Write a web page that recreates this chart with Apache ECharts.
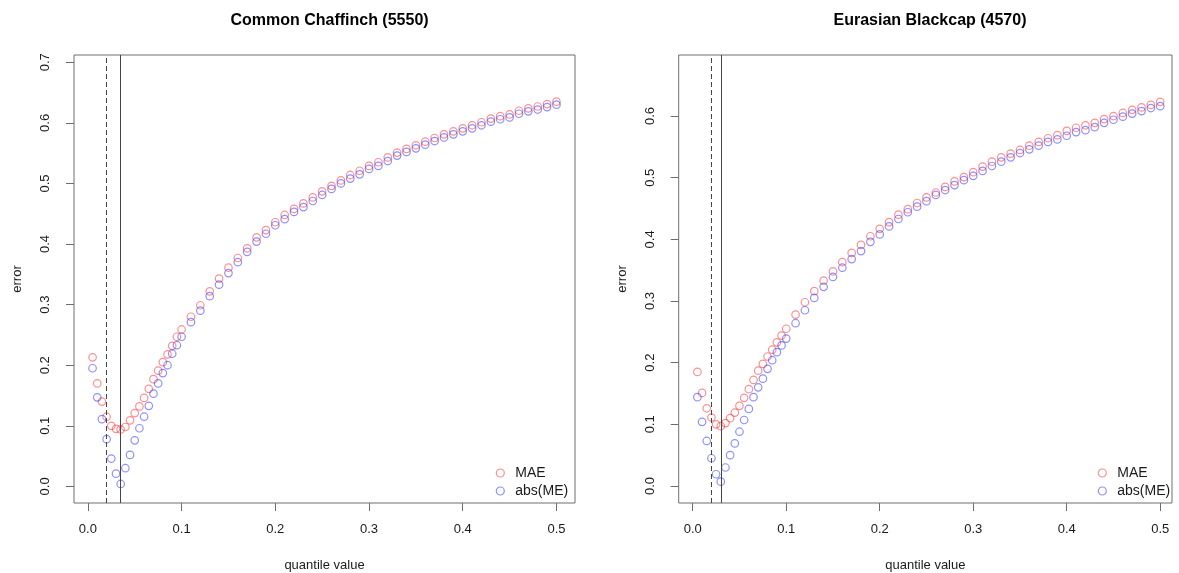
<!DOCTYPE html>
<html>
<head>
<meta charset="utf-8">
<title>Quantile error curves</title>
<script src="https://cdn.jsdelivr.net/npm/echarts@6/dist/echarts.min.js"></script>
<style>
  html, body { margin: 0; padding: 0; background: #fff; }
  #chart { width: 1179px; height: 573px; }
</style>
</head>
<body>
<div id="chart"></div>
<script>
// Quantile values evaluated for both species
const quantiles = [
  0.005, 0.01, 0.015, 0.02, 0.025, 0.03, 0.035, 0.04, 0.045, 0.05,
  0.055, 0.06, 0.065, 0.07, 0.075, 0.08, 0.085, 0.09, 0.095, 0.10,
  0.11, 0.12, 0.13, 0.14, 0.15, 0.16, 0.17, 0.18, 0.19, 0.20,
  0.21, 0.22, 0.23, 0.24, 0.25, 0.26, 0.27, 0.28, 0.29, 0.30,
  0.31, 0.32, 0.33, 0.34, 0.35, 0.36, 0.37, 0.38, 0.39, 0.40,
  0.41, 0.42, 0.43, 0.44, 0.45, 0.46, 0.47, 0.48, 0.49, 0.50
];

// Common Chaffinch (5550)
const chaffinchMAE = [
  0.213, 0.170, 0.140, 0.115, 0.100, 0.095, 0.094, 0.098, 0.109, 0.121,
  0.132, 0.146, 0.161, 0.177, 0.191, 0.205, 0.218, 0.232, 0.247, 0.259,
  0.280, 0.299, 0.322, 0.343, 0.361, 0.377, 0.393, 0.411, 0.423, 0.436,
  0.448, 0.458, 0.467, 0.477, 0.487, 0.496, 0.505, 0.514, 0.521, 0.529,
  0.535, 0.543, 0.551, 0.557, 0.563, 0.569, 0.575, 0.581, 0.586, 0.591,
  0.596, 0.601, 0.607, 0.611, 0.614, 0.620, 0.624, 0.627, 0.631, 0.635
];
const chaffinchAbsME = [
  0.195, 0.147, 0.111, 0.078, 0.046, 0.021, 0.004, 0.030, 0.052, 0.076,
  0.096, 0.115, 0.133, 0.153, 0.170, 0.187, 0.200, 0.219, 0.233, 0.247,
  0.271, 0.290, 0.314, 0.333, 0.352, 0.370, 0.387, 0.404, 0.417, 0.431,
  0.441, 0.453, 0.461, 0.471, 0.481, 0.491, 0.500, 0.508, 0.515, 0.524,
  0.529, 0.537, 0.546, 0.552, 0.558, 0.564, 0.570, 0.576, 0.581, 0.586,
  0.591, 0.596, 0.602, 0.606, 0.609, 0.615, 0.619, 0.622, 0.626, 0.630
];

// Eurasian Blackcap (4570)
const blackcapMAE = [
  0.185, 0.151, 0.126, 0.111, 0.100, 0.097, 0.102, 0.110, 0.119, 0.130,
  0.143, 0.157, 0.172, 0.187, 0.198, 0.210, 0.221, 0.233, 0.244, 0.255,
  0.278, 0.298, 0.316, 0.333, 0.348, 0.363, 0.378, 0.391, 0.405, 0.417,
  0.428, 0.440, 0.449, 0.459, 0.468, 0.476, 0.485, 0.494, 0.501, 0.509,
  0.518, 0.526, 0.533, 0.539, 0.545, 0.552, 0.558, 0.564, 0.569, 0.576,
  0.581, 0.585, 0.589, 0.595, 0.600, 0.605, 0.610, 0.614, 0.618, 0.623
];
const blackcapAbsME = [
  0.144, 0.104, 0.073, 0.045, 0.019, 0.007, 0.030, 0.050, 0.069, 0.088,
  0.107, 0.125, 0.144, 0.160, 0.174, 0.190, 0.204, 0.217, 0.228, 0.239,
  0.264, 0.285, 0.305, 0.323, 0.339, 0.354, 0.368, 0.381, 0.396, 0.408,
  0.421, 0.433, 0.444, 0.453, 0.462, 0.472, 0.480, 0.488, 0.496, 0.503,
  0.511, 0.519, 0.526, 0.533, 0.540, 0.546, 0.552, 0.558, 0.562, 0.568,
  0.574, 0.577, 0.582, 0.589, 0.594, 0.599, 0.604, 0.608, 0.613, 0.616
];

// Reference quantiles marked with vertical lines (dashed, solid)
const chaffinchRefLines = [0.02, 0.035];
const blackcapRefLines = [0.02, 0.03];

// Tick labels
const xTicks = [0.0, 0.1, 0.2, 0.3, 0.4, 0.5];
const yTicksChaffinch = [0.0, 0.1, 0.2, 0.3, 0.4, 0.5, 0.6, 0.7];
const yTicksBlackcap = [0.0, 0.1, 0.2, 0.3, 0.4, 0.5, 0.6];

const titles = ['Common Chaffinch (5550)', 'Eurasian Blackcap (4570)'];
const seriesNames = ['MAE', 'abs(ME)'];

const FONT = '"Liberation Sans", Arial, Helvetica, sans-serif';
const TEXT = '#1a1a1a';
const FRAME = '#6e6e6e';
const RED = 'rgba(255, 30, 30, 0.62)';
const BLUE = 'rgba(30, 30, 255, 0.62)';

const pairs = (ys) => quantiles.map((q, i) => [q, ys[i]]);

function xAxisFor(gridIndex, min, max) {
  return {
    gridIndex, type: 'value', min, max,
    name: 'quantile value', nameLocation: 'middle', nameGap: 56,
    nameTextStyle: { fontFamily: FONT, fontSize: 13, color: TEXT },
    axisLine: { show: false, onZero: false },
    splitLine: { show: false },
    axisTick: { show: true, inside: false, length: 8, customValues: xTicks, lineStyle: { color: FRAME, width: 1 } },
    axisLabel: {
      customValues: xTicks, margin: 20, fontFamily: FONT, fontSize: 13, color: TEXT,
      formatter: (v) => v.toFixed(1)
    }
  };
}

function yAxisFor(gridIndex, min, max, ticks) {
  return {
    gridIndex, type: 'value', min, max,
    name: 'error', nameLocation: 'middle', nameGap: 50,
    nameTextStyle: { fontFamily: FONT, fontSize: 13, color: TEXT },
    axisLine: { show: false, onZero: false },
    splitLine: { show: false },
    axisTick: { show: true, inside: false, length: 8, customValues: ticks, lineStyle: { color: FRAME, width: 1 } },
    axisLabel: {
      customValues: ticks, margin: 22, rotate: 90, fontFamily: FONT, fontSize: 13, color: TEXT,
      formatter: (v) => v.toFixed(1)
    }
  };
}

function refLines(values) {
  return {
    silent: true, symbol: 'none', animation: false, precision: 4,
    label: { show: false },
    emphasis: { disabled: true },
    data: [
      { xAxis: values[0], lineStyle: { type: [5, 3], color: '#444', width: 1 } },
      { xAxis: values[1], lineStyle: { type: 'solid', color: '#444', width: 1 } }
    ]
  };
}

function scatter(name, idx, ys, color, lines) {
  const s = {
    name, type: 'scatter', xAxisIndex: idx, yAxisIndex: idx,
    data: pairs(ys), symbol: 'circle', symbolSize: 7.5,
    itemStyle: { color: 'rgba(0,0,0,0)', borderColor: color, borderWidth: 1.2 },
    emphasis: { disabled: true }
  };
  if (lines) s.markLine = refLines(lines);
  return s;
}

function legendAt(left) {
  return {
    orient: 'vertical', left, top: 461,
    itemWidth: 20, itemHeight: 8, itemGap: 4,
    selectedMode: false,
    textStyle: { fontFamily: FONT, fontSize: 14, color: TEXT, lineHeight: 14 },
    data: [
      { name: seriesNames[0], icon: 'circle', itemStyle: { color: 'rgba(0,0,0,0)', borderColor: RED, borderWidth: 1.2 } },
      { name: seriesNames[1], icon: 'circle', itemStyle: { color: 'rgba(0,0,0,0)', borderColor: BLUE, borderWidth: 1.2 } }
    ]
  };
}

function gridAt(left, width) {
  return {
    left, top: 55, width, height: 448,
    containLabel: false, outerBoundsMode: 'none',
    show: true, borderColor: FRAME, borderWidth: 1, backgroundColor: 'transparent'
  };
}

const chart = echarts.init(document.getElementById('chart'), null, { renderer: 'canvas' });
chart.setOption({
  animation: false,
  backgroundColor: '#ffffff',
  title: [
    { text: titles[0], left: 324.5, top: 8, textAlign: 'center',
      textStyle: { fontFamily: FONT, fontSize: 16, fontWeight: 'bold', color: '#000' } },
    { text: titles[1], left: 925, top: 8, textAlign: 'center',
      textStyle: { fontFamily: FONT, fontSize: 16, fontWeight: 'bold', color: '#000' } }
  ],
  grid: [gridAt(74, 501), gridAt(678.7, 493.3)],
  legend: [legendAt(490.7), legendAt(1092.7)],
  xAxis: [xAxisFor(0, -0.0148, 0.5198), xAxisFor(1, -0.015, 0.5126)],
  yAxis: [
    yAxisFor(0, -0.0274, 0.712, yTicksChaffinch),
    yAxisFor(1, -0.0276, 0.699, yTicksBlackcap)
  ],
  series: [
    scatter(seriesNames[0], 0, chaffinchMAE, RED, chaffinchRefLines),
    scatter(seriesNames[1], 0, chaffinchAbsME, BLUE, null),
    scatter(seriesNames[0], 1, blackcapMAE, RED, blackcapRefLines),
    scatter(seriesNames[1], 1, blackcapAbsME, BLUE, null)
  ]
});
</script>
</body>
</html>
